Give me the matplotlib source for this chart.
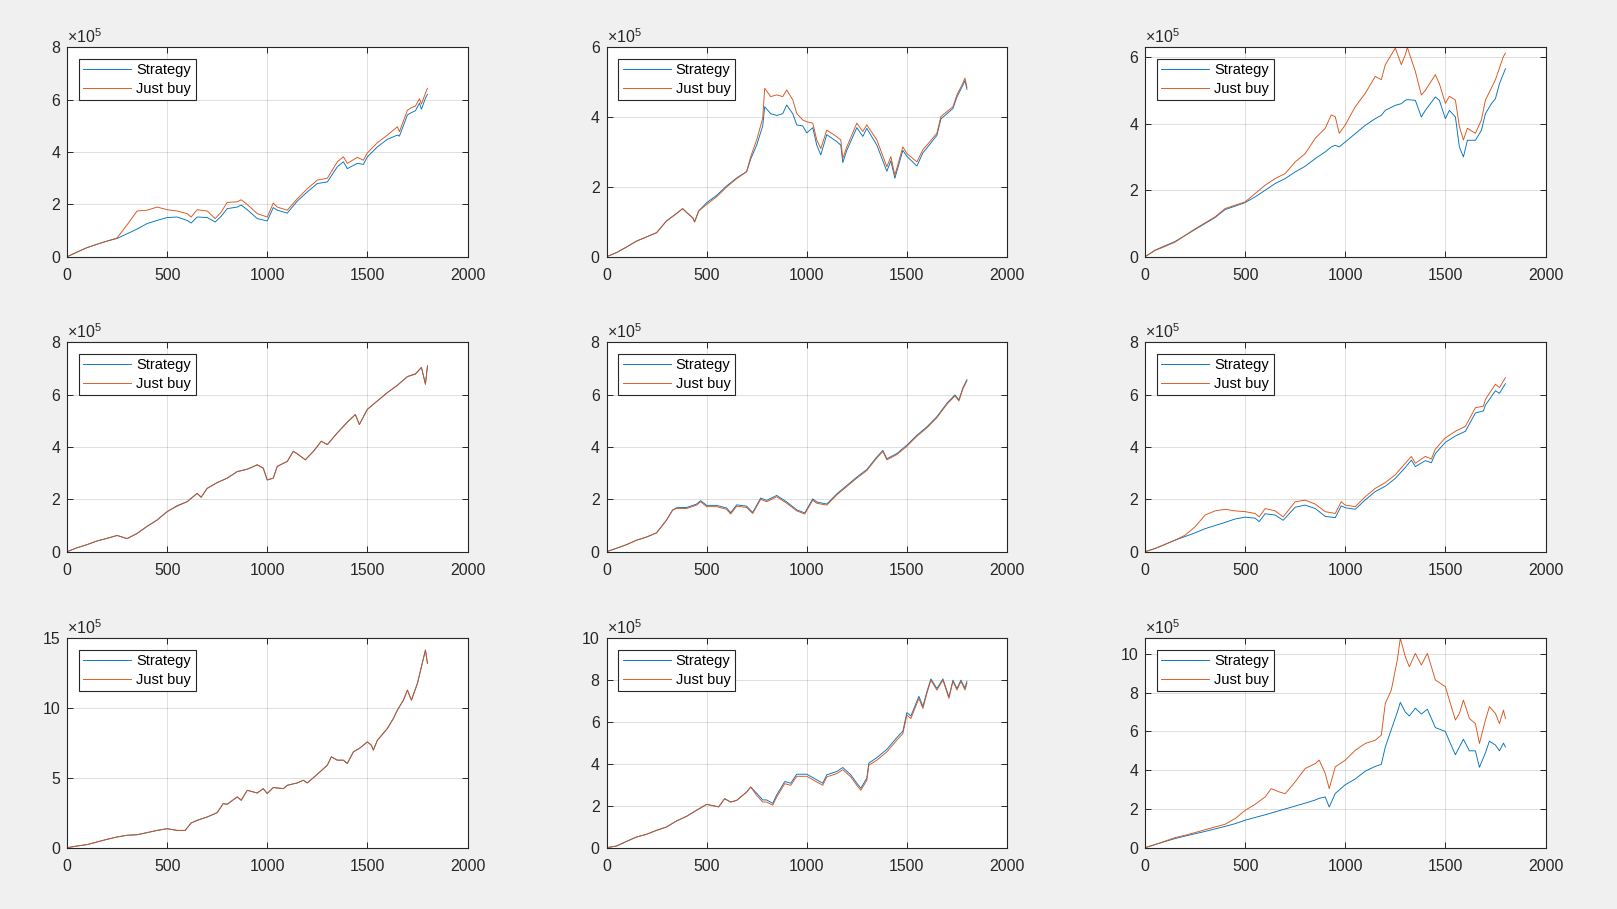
import matplotlib
matplotlib.use("Agg")
import matplotlib.pyplot as plt

plt.rcParams['font.family'] = ['Liberation Sans', 'DejaVu Sans']

# ---------------- data (values in units of 1e5) ----------------
days1 = [0,50,100,150,200,250,300,350,400,450,500,550,600,620,650,700,740,770,800,850,870,900,950,1000,1030,1050,1100,1150,1200,1250,1300,1350,1380,1400,1450,1480,1500,1550,1600,1650,1660,1700,1720,1740,1760,1770,1790,1800]
strategy1 = [0,0.18,0.35,0.48,0.6,0.7,0.88,1.06,1.27,1.39,1.5,1.52,1.39,1.29,1.52,1.5,1.33,1.55,1.84,1.9,1.98,1.8,1.46,1.37,1.88,1.78,1.67,2.13,2.48,2.8,2.86,3.44,3.63,3.37,3.57,3.53,3.82,4.2,4.49,4.65,4.61,5.42,5.51,5.58,5.87,5.64,6.06,6.21]
justbuy1 = [0,0.18,0.35,0.48,0.6,0.72,1.22,1.75,1.78,1.9,1.8,1.75,1.65,1.52,1.8,1.75,1.46,1.71,2.08,2.1,2.18,2.0,1.65,1.52,2.05,1.9,1.78,2.22,2.6,2.93,3.0,3.63,3.82,3.57,3.8,3.69,3.97,4.36,4.65,4.97,4.78,5.6,5.7,5.76,6.04,5.84,6.25,6.44]

days2 = [0,50,100,150,200,250,300,350,380,400,430,440,460,500,550,600,650,700,720,750,780,790,820,850,880,900,930,950,980,1000,1030,1050,1070,1100,1150,1170,1180,1200,1250,1280,1300,1350,1400,1420,1440,1480,1500,1550,1580,1600,1650,1670,1700,1730,1750,1780,1790,1800]
strategy2 = [0,0.12,0.28,0.45,0.57,0.69,1.03,1.24,1.38,1.27,1.12,1.0,1.31,1.55,1.76,2.03,2.26,2.44,2.8,3.2,3.75,4.3,4.1,4.05,4.1,4.35,4.1,3.78,3.75,3.55,3.7,3.2,2.92,3.5,3.3,3.2,2.7,3.05,3.7,3.45,3.68,3.2,2.45,2.75,2.25,3.05,2.88,2.6,2.98,3.12,3.48,3.95,4.1,4.25,4.58,4.92,5.05,4.8]
justbuy2 = [0,0.12,0.28,0.45,0.57,0.69,1.03,1.24,1.38,1.27,1.12,1.0,1.31,1.5,1.72,2.0,2.24,2.44,2.87,3.35,3.97,4.83,4.59,4.64,4.59,4.78,4.5,4.11,3.92,3.87,3.83,3.35,3.1,3.63,3.44,3.35,2.82,3.15,3.83,3.59,3.78,3.35,2.58,2.87,2.34,3.15,2.96,2.72,3.07,3.2,3.54,4.02,4.16,4.3,4.64,4.98,5.12,4.86]

days3 = [0,50,100,150,200,250,300,350,400,450,500,550,600,650,700,750,800,850,900,930,950,970,1000,1050,1100,1150,1180,1200,1250,1280,1300,1310,1350,1380,1400,1450,1470,1500,1520,1550,1570,1590,1610,1650,1680,1700,1730,1750,1770,1790,1800]
strategy3 = [0,0.2,0.33,0.46,0.64,0.82,1.0,1.18,1.42,1.52,1.63,1.8,2.0,2.2,2.35,2.55,2.72,2.95,3.15,3.3,3.35,3.3,3.45,3.7,3.95,4.15,4.25,4.4,4.55,4.6,4.7,4.72,4.7,4.2,4.4,4.8,4.7,4.15,4.4,4.2,3.3,3.0,3.5,3.5,3.8,4.3,4.6,4.75,5.2,5.5,5.65]
justbuy3 = [0,0.19,0.31,0.44,0.64,0.84,1.02,1.2,1.45,1.55,1.65,1.9,2.15,2.35,2.5,2.85,3.1,3.56,3.86,4.26,4.21,3.71,3.96,4.51,4.91,5.42,5.32,5.77,6.27,5.77,6.07,6.29,5.57,4.86,5.0,5.47,5.2,4.61,4.82,4.71,3.91,3.51,3.86,3.71,4.11,4.71,5.07,5.32,5.67,6.02,6.12]

days4 = [0,50,100,150,200,250,300,350,400,450,500,550,600,650,670,700,750,800,850,900,950,980,1000,1030,1050,1100,1130,1150,1190,1230,1270,1300,1350,1400,1440,1460,1500,1550,1600,1650,1700,1740,1770,1790,1800]
justbuy4 = [0,0.15,0.27,0.41,0.51,0.62,0.5,0.69,0.97,1.21,1.53,1.74,1.91,2.23,2.08,2.42,2.64,2.81,3.06,3.15,3.32,3.19,2.74,2.81,3.26,3.45,3.83,3.74,3.51,3.83,4.22,4.09,4.54,4.95,5.24,4.86,5.44,5.76,6.08,6.36,6.69,6.78,7.04,6.4,7.1]
strategy4 = [0,0.15,0.27,0.41,0.51,0.62,0.5,0.7,0.97,1.21,1.53,1.76,1.91,2.23,2.08,2.42,2.64,2.81,3.06,3.15,3.32,3.19,2.74,2.81,3.26,3.45,3.84,3.74,3.51,3.83,4.22,4.09,4.54,4.95,5.24,4.86,5.44,5.76,6.08,6.36,6.69,6.8,7.04,6.4,7.1]

days5 = [0,50,100,150,200,250,300,330,350,400,450,470,500,550,600,620,650,700,730,770,800,850,900,950,990,1030,1050,1100,1150,1200,1250,1300,1350,1380,1400,1450,1500,1550,1600,1650,1700,1740,1760,1780,1800]
strategy5 = [0,0.13,0.27,0.44,0.56,0.72,1.21,1.59,1.68,1.69,1.82,1.95,1.77,1.77,1.67,1.49,1.79,1.74,1.5,2.05,1.96,2.15,1.9,1.6,1.48,2.02,1.9,1.82,2.21,2.53,2.85,3.14,3.62,3.87,3.55,3.75,4.07,4.45,4.77,5.16,5.67,5.99,5.8,6.27,6.57]
justbuy5 = [0,0.13,0.27,0.44,0.56,0.72,1.21,1.59,1.65,1.65,1.78,1.91,1.72,1.72,1.62,1.44,1.74,1.69,1.46,2.0,1.91,2.1,1.85,1.56,1.44,1.97,1.85,1.78,2.17,2.49,2.81,3.1,3.58,3.83,3.51,3.71,4.03,4.41,4.73,5.12,5.63,5.95,5.76,6.23,6.53]

days6 = [0,50,100,150,200,250,300,350,400,450,500,550,570,600,650,690,750,800,850,900,950,980,1000,1050,1100,1150,1200,1250,1300,1330,1350,1400,1430,1450,1500,1550,1600,1650,1690,1700,1750,1770,1800]
strategy6 = [0,0.12,0.28,0.44,0.58,0.72,0.88,1.0,1.12,1.25,1.32,1.28,1.15,1.45,1.4,1.2,1.7,1.78,1.65,1.35,1.3,1.75,1.68,1.62,1.98,2.3,2.5,2.8,3.22,3.5,3.25,3.48,3.4,3.75,4.18,4.42,4.6,5.3,5.38,5.6,6.15,6.05,6.42]
justbuy6 = [0,0.12,0.28,0.44,0.63,0.95,1.4,1.56,1.62,1.56,1.53,1.46,1.33,1.65,1.56,1.33,1.91,1.97,1.82,1.53,1.46,1.91,1.78,1.72,2.1,2.42,2.64,2.94,3.38,3.64,3.38,3.64,3.54,3.92,4.35,4.6,4.79,5.5,5.56,5.82,6.4,6.27,6.65]

days7 = [0,50,100,150,200,250,300,350,400,450,500,550,590,620,650,700,750,780,800,850,870,900,950,980,1000,1030,1080,1100,1150,1180,1200,1250,1300,1320,1350,1380,1400,1430,1460,1500,1520,1530,1550,1600,1630,1650,1680,1700,1720,1750,1770,1790,1800]
justbuy7 = [0,0.12,0.22,0.41,0.6,0.77,0.89,0.93,1.08,1.24,1.36,1.24,1.24,1.77,1.96,2.2,2.51,3.16,3.11,3.64,3.4,4.11,3.92,4.23,3.88,4.31,4.23,4.47,4.64,4.83,4.64,5.26,5.91,6.51,6.27,6.27,6.03,6.87,7.11,7.58,7.34,6.99,7.7,8.54,9.26,9.86,10.57,11.29,10.57,11.77,12.97,14.16,13.2]
strategy7 = list(justbuy7)

days8 = [0,50,100,150,200,250,300,350,400,450,500,560,590,620,650,700,720,750,780,800,830,850,890,920,950,1000,1050,1080,1100,1150,1180,1220,1250,1270,1300,1310,1350,1400,1450,1480,1500,1520,1560,1580,1600,1620,1650,1680,1710,1730,1750,1770,1790,1800]
strategy8 = [0,0.08,0.3,0.51,0.64,0.83,0.99,1.28,1.5,1.79,2.07,1.95,2.34,2.18,2.26,2.66,2.9,2.6,2.28,2.28,2.12,2.52,3.16,3.08,3.51,3.51,3.24,3.08,3.48,3.64,3.83,3.48,3.08,2.84,3.32,4.04,4.3,4.7,5.26,5.57,6.45,6.29,7.23,6.75,7.45,8.06,7.6,8.06,7.2,8.0,7.6,8.0,7.62,7.95]
justbuy8 = [0,0.08,0.3,0.51,0.64,0.83,0.99,1.28,1.5,1.79,2.07,1.95,2.34,2.18,2.26,2.66,2.9,2.5,2.18,2.18,2.03,2.42,3.06,2.98,3.41,3.41,3.14,2.98,3.38,3.54,3.73,3.38,2.98,2.74,3.22,3.94,4.18,4.58,5.14,5.45,6.33,6.17,7.13,6.65,7.37,8.0,7.53,8.0,7.13,7.94,7.53,7.94,7.53,7.85]

days9 = [0,50,100,150,200,250,300,350,400,450,500,550,600,630,670,700,750,800,850,870,900,920,950,1000,1050,1100,1150,1180,1200,1230,1260,1275,1300,1320,1350,1380,1410,1450,1500,1520,1550,1570,1590,1620,1650,1670,1700,1720,1750,1770,1790,1800]
strategy9 = [0,0.16,0.32,0.47,0.6,0.72,0.84,0.97,1.1,1.24,1.42,1.56,1.7,1.79,1.91,2.0,2.15,2.3,2.46,2.55,2.62,2.1,2.8,3.25,3.55,3.95,4.2,4.3,5.2,6.1,7.0,7.5,7.0,6.8,7.2,6.9,7.15,6.2,6.0,5.5,4.8,5.2,5.6,5.0,5.0,4.15,4.9,5.5,5.3,5.0,5.4,5.2]
justbuy9 = [0,0.16,0.34,0.52,0.64,0.78,0.93,1.07,1.21,1.5,1.93,2.24,2.62,3.05,2.88,2.79,3.4,4.09,4.34,4.52,3.83,3.05,4.17,4.52,5.03,5.38,5.55,5.81,7.45,8.14,9.69,10.81,9.86,9.34,10.03,9.43,10.03,8.66,8.31,7.62,6.59,6.93,7.62,6.67,6.41,5.38,6.59,7.28,6.93,6.41,7.1,6.67]

panels = [
    (days1, strategy1, justbuy1, 8, [0, 2, 4, 6, 8]),
    (days2, strategy2, justbuy2, 6, [0, 2, 4, 6]),
    (days3, strategy3, justbuy3, max(justbuy3), [0, 2, 4, 6]),
    (days4, strategy4, justbuy4, 8, [0, 2, 4, 6, 8]),
    (days5, strategy5, justbuy5, 8, [0, 2, 4, 6, 8]),
    (days6, strategy6, justbuy6, 8, [0, 2, 4, 6, 8]),
    (days7, strategy7, justbuy7, 15, [0, 5, 10, 15]),
    (days8, strategy8, justbuy8, 10, [0, 2, 4, 6, 8, 10]),
    (days9, strategy9, justbuy9, max(justbuy9), [0, 2, 4, 6, 8, 10]),
]
xticks = [0, 500, 1000, 1500, 2000]
series_names = ['Strategy', 'Just buy']

# ---------------- figure ----------------
W, H = 1617, 909
fig = plt.figure(figsize=(W / 100, H / 100), dpi=100, facecolor='#f0f0f0')

col_left = [67 / W, 606.5 / W, 1145 / W]
row_bottom = [(H - 256.8) / H, (H - 551.7) / H, (H - 847.7) / H]
aw, ah = 400.5 / W, 209.4 / H

BLUE = '#0072BD'
ORANGE = '#D95319'
DARK = '#262626'

for i, (d, s, j, ytop, yt) in enumerate(panels):
    r, c = divmod(i, 3)
    ax = fig.add_axes([col_left[c], row_bottom[r], aw, ah])
    ax.set_facecolor('white')
    ax.plot(d, s, color=BLUE, lw=0.65, label=series_names[0])
    ax.plot(d, j, color=ORANGE, lw=0.65, label=series_names[1])
    ax.set_xlim(0, 2000)
    ax.set_ylim(0, ytop)
    ax.set_xticks(xticks)
    ax.set_yticks(yt)
    ax.grid(True, color=DARK, alpha=0.15, lw=0.7)
    ax.set_axisbelow(True)
    ax.tick_params(direction='in', length=4, width=0.7, colors=DARK,
                   top=True, right=True, labelsize=11.4)
    ax.tick_params(axis='x', pad=8)
    ax.tick_params(axis='y', pad=5)
    for sp in ax.spines.values():
        sp.set_color(DARK)
        sp.set_linewidth(0.8)
    ax.annotate(r'$\mathregular{\times10^{5}}$', xy=(0, 1), xycoords='axes fraction',
                xytext=(0, 1), textcoords='offset points', ha='left', va='bottom',
                fontsize=11.4, color=DARK)
    leg = ax.legend(loc='upper left', fontsize=10.5, frameon=True, fancybox=False,
                    framealpha=1, edgecolor=DARK, handlelength=3.3, handletextpad=0.35,
                    borderpad=0.3, labelspacing=0.3, borderaxespad=0.8)
    leg.get_frame().set_linewidth(0.8)
    for t in leg.get_texts():
        t.set_color('black')

fig.savefig('out.png', dpi=100, facecolor=fig.get_facecolor())
